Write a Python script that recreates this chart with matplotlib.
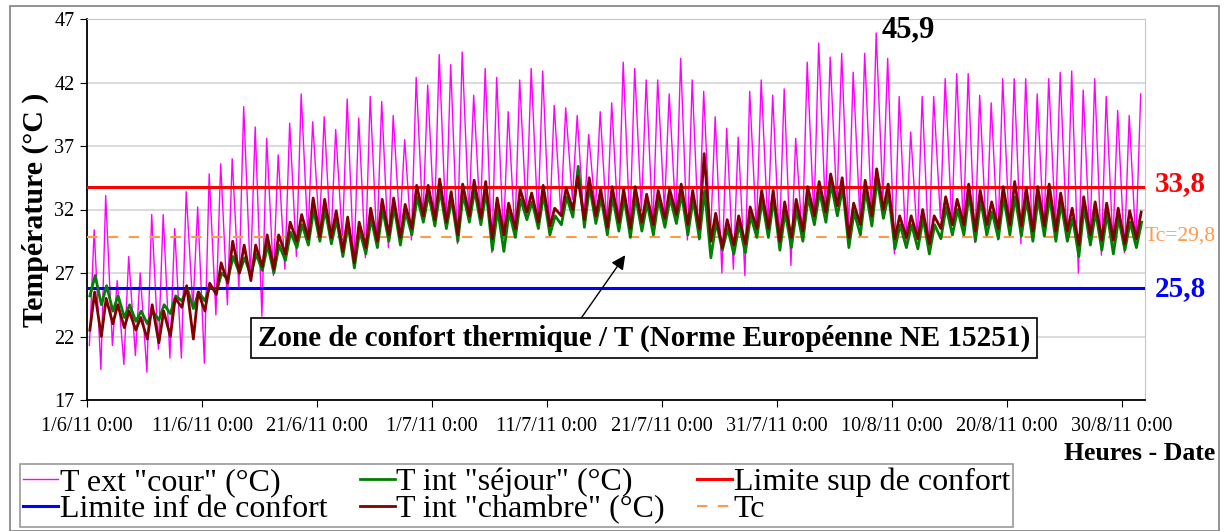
import numpy as np
import matplotlib
matplotlib.use("Agg")
import matplotlib.pyplot as plt
from matplotlib.patches import Rectangle

plt.rcParams['font.family'] = ['Liberation Serif', 'DejaVu Serif']

# daily extremes, 1/6/11 -> 31/8/11 (92 days)
text_max = [30.4, 33.1, 26.4, 28.3, 27.0, 31.6, 31.6, 30.5, 33.4, 32.2, 34.8, 35.6, 36.0, 40.1, 38.5, 37.6,
            36.3, 38.8, 41.1, 38.9, 39.3, 38.3, 40.7, 39.2, 40.9, 40.5, 39.4, 37.5, 42.4, 41.8, 44.2, 43.4,
            44.4, 41.0, 43.1, 42.4, 39.7, 42.2, 43.1, 42.9, 40.2, 40.0, 39.4, 37.9, 39.7, 40.4, 43.6,
            43.1, 42.2, 42.2, 41.1, 43.9, 42.2, 41.3, 39.3, 38.4, 37.7, 41.3, 42.2, 41.0, 41.5, 37.6, 43.6,
            45.1, 44.0, 44.3, 42.8, 44.3, 45.9, 43.9, 40.9, 38.1, 40.9, 40.9, 42.3, 42.7, 42.7, 41.0, 40.4,
            42.3, 42.3, 42.3, 41.1, 42.3, 42.8, 42.9, 41.4, 42.3, 40.9, 39.8, 39.4, 41.1]
text_min = [21.3, 19.4, 21.3, 19.8, 20.5, 19.2, 21.0, 20.3, 20.3, 24.2, 19.9, 23.7, 24.5, 25.8, 26.6, 23.6,
            26.8, 27.3, 28.3, 29.8, 30.3, 29.3, 29.6, 27.5, 28.2, 29.3, 29.0, 30.6, 29.6, 31.1, 30.8, 30.8,
            29.3, 31.5, 31.1, 28.6, 29.7, 30.1, 31.5, 31.0, 30.3, 31.6, 32.8, 31.1, 31.9, 30.8, 30.6,
            30.5, 31.9, 30.6, 31.9, 31.3, 29.6, 29.6, 29.6, 27.0, 27.3, 26.8, 30.3, 30.6, 29.4, 27.6, 29.8,
            31.3, 31.9, 32.3, 30.3, 31.3, 31.9, 32.8, 28.5, 29.1, 29.6, 28.6, 31.3, 30.8, 30.6, 29.4, 29.8,
            29.6, 30.3, 29.3, 29.9, 30.1, 30.8, 29.6, 27.0, 29.3, 28.4, 29.3, 28.6, 29.3]
sej_max = [26.8, 26.0, 25.2, 24.5, 24.0, 24.0, 24.5, 25.2, 25.8, 25.5, 26.0, 27.0, 28.3, 28.2, 28.5, 29.2,
           29.2, 30.2, 30.8, 32.0, 32.0, 31.2, 30.8, 30.3, 31.3, 32.0, 32.2, 31.8, 33.0, 33.2, 33.5, 32.8,
           33.2, 33.5, 33.4, 32.0, 31.8, 32.8, 32.6, 33.2, 31.5, 33.0, 35.4, 33.8, 32.9, 33.0, 32.9,
           33.0, 32.5, 32.8, 32.9, 33.2, 32.8, 33.5, 31.0, 30.5, 30.8, 31.5, 32.7, 32.8, 31.8, 32.0, 33.0,
           33.4, 34.0, 33.7, 31.8, 33.5, 34.4, 33.2, 30.8, 30.8, 31.3, 30.8, 32.2, 32.0, 33.2, 32.7, 31.8,
           33.0, 33.0, 32.8, 32.9, 33.0, 32.5, 31.3, 32.2, 31.8, 31.7, 31.3, 31.0, 31.0]
sej_min = [25.2, 24.5, 24.0, 23.5, 23.2, 23.0, 23.3, 23.8, 24.8, 24.2, 24.8, 25.5, 26.5, 27.0, 26.8, 27.2,
           27.0, 28.0, 29.0, 29.2, 29.5, 29.3, 28.3, 27.4, 28.5, 29.0, 29.5, 29.2, 30.0, 31.0, 30.7, 30.5,
           29.5, 31.0, 30.8, 28.8, 28.7, 29.8, 31.2, 30.5, 30.0, 30.8, 31.4, 30.6, 30.9, 30.0, 30.3,
           29.8, 30.3, 30.0, 30.6, 30.9, 30.0, 29.7, 28.2, 28.8, 28.5, 28.6, 29.8, 29.8, 28.8, 29.0, 29.5,
           30.8, 31.0, 31.5, 29.0, 30.0, 30.7, 31.3, 28.9, 29.0, 28.9, 28.5, 29.7, 30.0, 30.0, 29.5, 30.0,
           29.7, 30.0, 29.9, 29.5, 29.9, 29.5, 29.5, 28.3, 29.2, 28.8, 28.5, 28.8, 29.0]
ch_max = [25.5, 25.0, 24.5, 24.0, 23.5, 24.5, 24.0, 25.0, 26.0, 25.5, 26.2, 27.8, 29.5, 29.2, 29.2, 30.0,
          30.0, 31.0, 31.6, 32.9, 32.8, 31.9, 31.4, 31.0, 32.1, 32.8, 32.9, 32.4, 33.9, 33.9, 34.4, 33.4,
          34.0, 34.3, 34.2, 32.9, 32.5, 33.6, 33.3, 33.9, 32.1, 33.7, 34.6, 34.5, 33.6, 33.8, 33.6,
          33.8, 33.2, 33.5, 33.6, 34.0, 33.5, 36.4, 31.7, 31.2, 31.5, 32.2, 33.5, 33.5, 32.6, 32.8, 33.8,
          34.2, 34.8, 34.5, 32.5, 34.3, 35.2, 34.0, 31.5, 31.5, 32.0, 31.5, 33.0, 32.8, 34.0, 33.5, 32.6,
          33.8, 34.2, 33.7, 33.8, 34.0, 33.3, 32.1, 33.0, 32.6, 32.5, 32.1, 31.9, 31.8]
ch_min = [22.5, 22.0, 23.0, 22.7, 22.5, 21.8, 21.5, 22.0, 24.3, 21.8, 24.0, 25.3, 26.2, 27.0, 26.4, 27.5,
          27.3, 28.5, 29.5, 29.7, 29.9, 29.8, 28.7, 27.8, 29.0, 29.5, 30.0, 29.8, 30.5, 31.5, 31.2, 31.0,
          30.0, 31.5, 31.3, 29.7, 30.0, 30.5, 31.8, 31.0, 30.7, 31.5, 32.0, 31.2, 31.5, 30.6, 31.0,
          30.5, 31.0, 30.8, 31.3, 31.6, 30.8, 30.5, 29.5, 29.0, 29.2, 29.3, 30.5, 30.5, 29.5, 29.8, 30.3,
          31.5, 31.8, 32.3, 29.8, 30.8, 31.5, 32.0, 29.7, 29.8, 29.7, 29.3, 30.5, 30.8, 30.8, 30.3, 30.8,
          30.5, 30.8, 30.7, 30.3, 30.7, 30.3, 30.3, 29.2, 30.0, 29.6, 29.6, 29.3, 29.7]

lim_sup = 33.8
lim_inf = 25.8
tc = 29.8
t_peak = 45.9
tick_labels = ['1/6/11 0:00', '11/6/11 0:00', '21/6/11 0:00', '1/7/11 0:00', '11/7/11 0:00',
               '21/7/11 0:00', '31/7/11 0:00', '10/8/11 0:00', '20/8/11 0:00', '30/8/11 0:00']
n_days = 92


def daily_curve(tmin, tmax, h_min, h_max):
    # one low point and one high point per day
    t, v = [], []
    for d in range(len(tmin)):
        t += [d + h_min / 24, d + h_max / 24]
        v += [tmin[d], tmax[d]]
    return np.array(t), np.array(v)


def fr(v):
    return f'{v:.1f}'.replace('.', ',')


W, H = 1224, 531
fig = plt.figure(figsize=(W / 100, H / 100), dpi=100)
ax = fig.add_axes([87 / W, 1 - 400 / H, (1145 - 87) / W, (400 - 19) / H])

fig.patches.append(Rectangle((10 / W, 0), 1209 / W, 1 - 6 / H, transform=fig.transFigure,
                             fill=False, edgecolor='#808080', linewidth=1.2))

x, y = daily_curve(text_min, text_max, 5, 15)
l_ext, = ax.plot(x, y, color='#ff00ff', lw=1.0, zorder=2, label='T ext "cour" (°C)')
x, y = daily_curve(sej_min, sej_max, 6, 17)
l_sej, = ax.plot(x, y, color='#008000', lw=2.0, zorder=4, label='T int "séjour" (°C)')
x, y = daily_curve(ch_min, ch_max, 6, 16)
l_ch, = ax.plot(x, y, color='#800000', lw=2.0, zorder=5, label='T int "chambre" (°C)')

l_sup = ax.axhline(lim_sup, color='#ff0000', lw=2.2, zorder=3, label='Limite sup de confort')
l_inf = ax.axhline(lim_inf, color='#0000ff', lw=2.2, zorder=3, label='Limite inf de confort')
l_tc = ax.axhline(tc, color='#ff9a4d', lw=1.5, ls=(0, (5, 5)), zorder=3, label='Tc')

ax.set_xlim(0, n_days)
ax.set_ylim(17, 47)
ax.set_yticks(range(17, 48, 5))
ax.set_xticks(range(0, 91, 10))
ax.set_xticklabels(tick_labels)
ax.tick_params(axis='both', labelsize=14.5, direction='out', length=5, colors='black')
ax.tick_params(axis='x', pad=7)
ax.tick_params(axis='y', pad=4)
ax.grid(axis='y', color='#d4d4d4', lw=1.2)
ax.set_axisbelow(True)
for s in ['top', 'right']:
    ax.spines[s].set_color('#c8c8c8')
for s in ['left', 'bottom']:
    ax.spines[s].set_linewidth(1.3)

ax.set_ylabel('Température (°C )', fontsize=21.5, fontweight='bold', labelpad=4)
fig.text(1215 / W, 1 - 453 / H, 'Heures - Date', ha='right', va='center', fontsize=18.5,
         fontweight='bold')

fig.text(882 / W, 1 - 30 / H, fr(t_peak), fontsize=22, fontweight='bold', va='center')
fig.text(1155 / W, 1 - 184 / H, fr(lim_sup), color='#ff0000', fontsize=21, fontweight='bold',
         va='center')
fig.text(1155 / W, 1 - 289 / H, fr(lim_inf), color='#0000ff', fontsize=21, fontweight='bold',
         va='center')
fig.text(1145 / W, 1 - 236 / H, 'Tc=' + fr(tc), color='#ff9a4d', fontsize=15.5, va='center')

ax.annotate('Zone de confort thermique / T (Norme Européenne NE 15251)',
            xy=(46.8, 28.4), xytext=(644 / W, 1 - 338 / H), textcoords='figure fraction',
            ha='center', va='center', fontsize=21, fontweight='bold',
            bbox=dict(boxstyle='square,pad=0.22', fc='white', ec='black', lw=1.2),
            arrowprops=dict(arrowstyle='-|>', color='black', lw=1, shrinkA=0, shrinkB=0,
                            relpos=(0.413, 1.0)),
            zorder=6)

handles = [l_ext, l_inf, l_sej, l_ch, l_sup, l_tc]
leg = fig.legend(handles, [h.get_label() for h in handles],
                 ncol=3, loc='lower left', bbox_to_anchor=(20 / W, 4 / H),
                 fontsize=23, frameon=True, fancybox=False, edgecolor='#808080',
                 handlelength=1.1, handletextpad=0.05, columnspacing=1.0, labelspacing=-0.08,
                 borderpad=0.1, borderaxespad=0)
leg.get_frame().set_linewidth(1.2)

fig.savefig('out.png', dpi=100)
